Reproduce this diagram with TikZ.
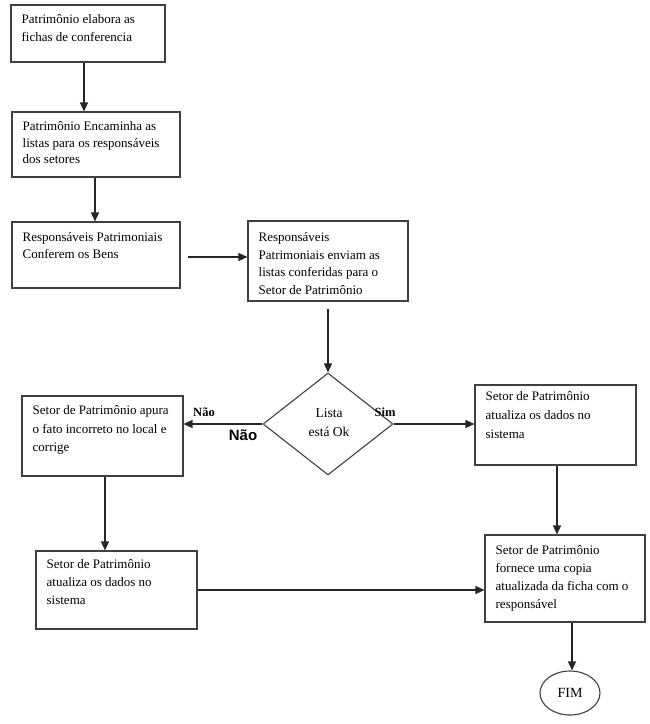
\documentclass[tikz,border=0pt]{standalone}
\usepackage{fontspec}
\setmainfont{Liberation Serif}
\newfontfamily\sansbold{Liberation Sans}
\usetikzlibrary{shapes.geometric,arrows.meta,calc}
\tikzset{
  box/.style={draw=black!75, line width=1.1pt, fill=white, inner sep=0pt},
  txt/.style={anchor=north west, inner sep=0pt, align=left, font=\fontsize{13}{16.5}\selectfont},
  arr/.style={draw=black!85, line width=1.3pt, -{Triangle[length=9pt,width=8pt]}},
  lbl/.style={inner sep=0pt, font=\fontsize{13.5}{19}\selectfont}
}
\begin{document}
\begin{tikzpicture}[x=1pt,y=-1pt]
\useasboundingbox (0,0) rectangle (650,724);
% boxes
\node[box, minimum width=154, minimum height=57] (b1) at (88,33.5) {};
\node[box, minimum width=168, minimum height=65] (b2) at (96,144.5) {};
\node[box, minimum width=168, minimum height=66] (b3) at (96,255) {};
\node[box, minimum width=160, minimum height=80] (b4) at (328,261) {};
\node[box, shape=diamond, minimum width=130, minimum height=102] (d) at (328,424) {};
\node[box, minimum width=161, minimum height=80] (b5) at (102.5,436) {};
\node[box, minimum width=161, minimum height=80] (b6) at (555.5,425) {};
\node[box, minimum width=161, minimum height=78] (b7) at (116.5,590) {};
\node[box, minimum width=160, minimum height=87] (b8) at (565,578.5) {};
\node[box, shape=ellipse, minimum width=60, minimum height=44] (fim) at (570,693) {\fontsize{14}{16}\selectfont FIM};
% texts
\node[txt, font=\fontsize{13}{18}\selectfont] at ($(b1.north west)+(11,10)$) {Patrimônio elabora as\\fichas de conferencia};
\node[txt] at ($(b2.north west)+(11,10)$) {Patrimônio Encaminha as\\listas para os responsáveis\\dos setores};
\node[txt] at ($(b3.north west)+(11,11)$) {Responsáveis Patrimoniais\\Conferem os Bens};
\node[txt, font=\fontsize{13}{17.5}\selectfont] at ($(b4.north west)+(11,12)$) {Responsáveis\\Patrimoniais enviam as\\listas conferidas para o\\Setor de Patrimônio};
\node[txt, font=\fontsize{13}{18.5}\selectfont] at ($(b5.north west)+(11,10)$) {Setor de Patrimônio apura\\o fato incorreto no local e\\corrige};
\node[txt, font=\fontsize{13}{19}\selectfont] at ($(b6.north west)+(11,7)$) {Setor de Patrimônio\\atualiza os dados no\\sistema};
\node[txt, font=\fontsize{13}{18}\selectfont] at ($(b7.north west)+(11,9)$) {Setor de Patrimônio\\atualiza os dados no\\sistema};
\node[txt, font=\fontsize{13}{18}\selectfont] at ($(b8.north west)+(11,11)$) {Setor de Patrimônio\\fornece uma copia\\atualizada da ficha com o\\responsável};
\node[lbl, align=center] (dt) at (329,423) {Lista\\está Ok};
% labels
\node[lbl, font=\fontsize{12.5}{14}\selectfont\bfseries] (nao1) at (204,412) {Não};
\node[lbl, font=\fontsize{12.5}{14}\selectfont\bfseries] (sim) at (385,412) {Sim};
\node[lbl, font=\sansbold\fontsize{15}{17}\selectfont\bfseries] (nao2) at (243,435) {Não};
% connectors
\coordinate (s34) at (188,257);
\draw[arr] (b1.south -| 84,0) -- (b2.north -| 84,0);
\draw[arr] (b2.south -| 95,0) -- (b3.north -| 95,0);
\draw[arr] (s34) -- (s34 -| b4.west);
\draw[arr] ($(b4.south)+(0,7)$) -- (d.north);
\draw[arr] (d.west) -- (d.west -| b5.east);
\draw[arr] (d.east) -- (d.east -| b6.west);
\draw[arr] (b5.south -| 105,0) -- (b7.north -| 105,0);
\draw[arr] (b7.east) -- (b7.east -| b8.west);
\draw[arr] (b6.south -| 557,0) -- (b8.north -| 557,0);
\draw[arr] (b8.south -| 572,0) -- (fim.north -| 572,0);
\end{tikzpicture}
\end{document}
